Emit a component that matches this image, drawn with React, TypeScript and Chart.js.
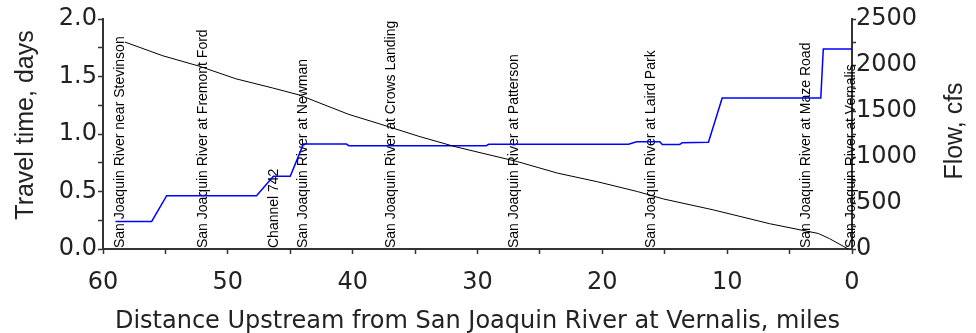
import React, { useEffect, useRef } from 'react';
import { Chart, registerables } from 'chart.js';

Chart.register(...registerables);

// Travel time (black line): distance upstream (miles) vs travel time (days)
const travelMiles = [58.25, 55.2, 52.3, 49.35, 46.4, 44.3, 40.3, 37.9, 34.7, 31.8, 26.8, 23.6, 20.4, 17.2, 15.1, 11.1, 6.6, 2.7, 1.8, 0.3];
const travelDays = [1.8, 1.68, 1.59, 1.48, 1.4, 1.34, 1.17, 1.09, 0.98, 0.89, 0.76, 0.66, 0.585, 0.5, 0.435, 0.34, 0.22, 0.135, 0.09, 0.0];

// Flow (blue line): distance upstream (miles) vs flow (cfs)
const flowMiles = [59.0, 56.1, 54.9, 47.7, 46.35, 45.0, 43.95, 40.5, 40.3, 29.3, 29.1, 17.9, 17.25, 15.4, 15.2, 13.8, 13.6, 11.5, 10.4, 2.5, 2.3, 0];
const flowCfs = [300, 300, 580, 580, 790, 790, 1140, 1140, 1123, 1123, 1138, 1138, 1166, 1166, 1136, 1136, 1155, 1160, 1640, 1640, 2175, 2175];

// Station labels
const stationNames = [
  'San Joaquin River near Stevinson',
  'San Joaquin River at Fremont Ford',
  'Channel 742',
  'San Joaquin River at Newman',
  'San Joaquin River at Crows Landing',
  'San Joaquin River at Patterson',
  'San Joaquin River at Laird Park',
  'San Joaquin River at Maze Road',
  'San Joaquin River at Vernalis',
];
const stationMiles = [58.6, 52.0, 46.3, 44.0, 36.9, 27.1, 16.1, 3.7, 0.1];

const xTitle = 'Distance Upstream from San Joaquin River at Vernalis, miles';
const yTitle = 'Travel time, days';
const y1Title = 'Flow, cfs';

const TEXT = '#222';
const AXIS = '#333';

const overlayPlugin = {
  id: 'overlay',
  beforeDatasetsDraw(chart: any) {
    const ctx = chart.ctx;
    const xs = chart.scales.x;
    const bottom = chart.chartArea.bottom - 1;
    ctx.save();
    ctx.fillStyle = '#000';
    ctx.font = '14px "Liberation Sans", Arial, sans-serif';
    ctx.textAlign = 'left';
    ctx.textBaseline = 'middle';
    stationNames.forEach((name, i) => {
      const px = xs.getPixelForValue(stationMiles[i]);
      ctx.save();
      ctx.translate(px, bottom);
      ctx.rotate(-Math.PI / 2);
      ctx.fillText(name, 0, 0);
      ctx.restore();
    });
    ctx.restore();
  },
  afterDraw(chart: any) {
    const ctx = chart.ctx;
    const { left, right } = chart.chartArea;
    ctx.save();
    ctx.fillStyle = TEXT;
    // x title
    ctx.font = '24px "DejaVu Sans", sans-serif';
    ctx.textAlign = 'center';
    ctx.textBaseline = 'alphabetic';
    ctx.fillText(xTitle, (left + right) / 2, 328);
    // y titles
    ctx.font = '25px "Liberation Sans", Arial, sans-serif';
    ctx.textBaseline = 'middle';
    ctx.save();
    ctx.translate(26, 125);
    ctx.rotate(-Math.PI / 2);
    ctx.fillText(yTitle, 0, 0);
    ctx.restore();
    ctx.save();
    ctx.translate(955, 131);
    ctx.rotate(-Math.PI / 2);
    ctx.fillText(y1Title, 0, 0);
    ctx.restore();
    ctx.restore();
  },
};

const tickFont = { family: '"DejaVu Sans", sans-serif', size: 24 };

export default function App() {
  const ref = useRef<HTMLCanvasElement | null>(null);

  useEffect(() => {
    document.body.style.margin = '0';
    if (!ref.current) return;
    const chart = new Chart(ref.current, {
      type: 'line',
      data: {
        datasets: [
          {
            label: 'Travel time',
            data: travelMiles.map((m, i) => ({ x: m, y: travelDays[i] })),
            borderColor: '#000',
            borderWidth: 1,
            pointRadius: 0,
            tension: 0,
            yAxisID: 'y',
          },
          {
            label: 'Flow',
            data: flowMiles.map((m, i) => ({ x: m, y: flowCfs[i] })),
            borderColor: '#0000ff',
            borderWidth: 1.5,
            pointRadius: 0,
            tension: 0,
            yAxisID: 'y1',
          },
        ],
      },
      options: {
        animation: false,
        responsive: false,
        layout: { padding: { top: 19, left: 0, right: 0, bottom: 0 } },
        plugins: { legend: { display: false }, tooltip: { enabled: false } },
        scales: {
          x: {
            type: 'linear',
            reverse: true,
            min: 0,
            max: 60,
            position: 'bottom',
            afterFit: (s: any) => {
              s.height = 84;
            },
            grid: { drawOnChartArea: false, drawTicks: true, tickLength: 5, color: AXIS, tickWidth: 1.5 },
            border: { color: AXIS, width: 2 },
            ticks: {
              stepSize: 5,
              autoSkip: false,
              maxRotation: 0,
              padding: 14,
              color: TEXT,
              font: tickFont,
              callback: (v: any) => (Number(v) % 10 === 0 ? String(v) : ''),
            },
          },
          y: {
            type: 'linear',
            position: 'left',
            min: 0,
            max: 2,
            afterFit: (s: any) => {
              s.width = 103;
            },
            grid: { drawOnChartArea: false, drawTicks: true, tickLength: 5, color: AXIS, tickWidth: 1.5 },
            border: { color: AXIS, width: 2 },
            ticks: {
              stepSize: 0.25,
              autoSkip: false,
              padding: 1,
              color: TEXT,
              font: tickFont,
              callback: (v: any) => {
                const n = Number(v);
                return Math.abs(n * 2 - Math.round(n * 2)) < 1e-6 ? n.toFixed(1) : '';
              },
            },
          },
          y1: {
            type: 'linear',
            position: 'right',
            min: 0,
            max: 2500,
            afterFit: (s: any) => {
              s.width = 124;
            },
            grid: { drawOnChartArea: false, drawTicks: true, tickLength: 4, color: AXIS, tickWidth: 1.5 },
            border: { color: AXIS, width: 2 },
            ticks: {
              stepSize: 250,
              autoSkip: false,
              padding: 0,
              color: TEXT,
              font: tickFont,
              callback: (v: any) => (Number(v) % 500 === 0 ? String(v) : ''),
            },
          },
        },
      },
      plugins: [overlayPlugin],
    });
    return () => chart.destroy();
  }, []);

  return (
    <div style={{ width: 976, height: 333 }}>
      <canvas ref={ref} width={976} height={333} style={{ display: 'block' }} />
    </div>
  );
}
